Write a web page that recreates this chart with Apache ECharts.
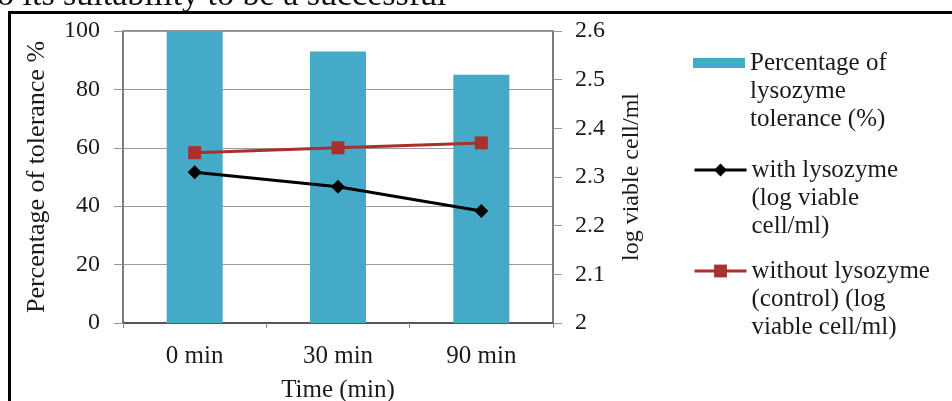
<!DOCTYPE html>
<html><head><meta charset="utf-8">
<script src="https://cdn.jsdelivr.net/npm/echarts@6/dist/echarts.min.js"></script>
<style>html,body{margin:0;padding:0;background:#fff}#c{width:952px;height:401px}</style>
</head><body><div id="c"></div>
<script>
const categories = ['0 min', '30 min', '90 min'];
const tolerance = [100, 93, 85];
const withLysozyme = [2.31, 2.28, 2.23];
const withoutLysozyme = [2.35, 2.36, 2.37];
const leftTicks = {min: 0, max: 100, interval: 20};
const rightTicks = {min: 2, max: 2.6, interval: 0.1};
const names = ['Percentage of\nlysozyme\ntolerance (%)', 'with lysozyme\n(log viable\ncell/ml)', 'without lysozyme\n(control) (log\nviable cell/ml)'];

const FONT = 'Liberation Serif';
const INK = '#1a1a1a';
const tick = {fontFamily: FONT, fontSize: 24, color: INK};
const lab = {fontFamily: FONT, fontSize: 25, color: INK};
const chart = echarts.init(document.getElementById('c'));
function leg(name, iconCenter, h, icon) {
  const l = {data: [name], orient: 'vertical', left: 693, top: iconCenter - 70, itemWidth: 52, itemHeight: h, padding: 0,
    selectedMode: false, formatter: n => '\n\n' + n,
    lineStyle: {width: 3},
    textStyle: {fontFamily: FONT, fontSize: 25, color: INK, lineHeight: 28}};
  if (icon) l.icon = icon;
  return l;
}
chart.setOption({
  animation: false,
  grid: {left: 123, right: 399, top: 31, bottom: 78, containLabel: false, outerBoundsMode: 'none',
    show: true, borderColor: '#6e6e6e', borderWidth: 1.5},
  legend: [leg(names[0], 63, 10, 'rect'), leg(names[1], 170, 16), leg(names[2], 271, 16)],
  xAxis: {type: 'category', data: categories,
    axisLine: {lineStyle: {color: '#444', width: 1.5}},
    axisTick: {show: true, alignWithLabel: false, length: 5, lineStyle: {color: '#888'}},
    axisLabel: Object.assign({margin: 21}, lab),
    name: 'Time (min)', nameLocation: 'middle', nameGap: 55, nameTextStyle: lab},
  yAxis: [
    {type: 'value', min: leftTicks.min, max: leftTicks.max, interval: leftTicks.interval,
      axisLine: {show: true, lineStyle: {color: '#777', width: 1.5}},
      axisTick: {show: true, length: 9, lineStyle: {color: '#999'}},
      splitLine: {lineStyle: {color: '#9a9a9a', width: 1.2}},
      axisLabel: Object.assign({margin: 23}, tick),
      name: 'Percentage of tolerance %', nameLocation: 'middle', nameGap: 73, nameRotate: 90,
      nameTextStyle: {fontFamily: FONT, fontSize: 26, color: INK}},
    {type: 'value', min: rightTicks.min, max: rightTicks.max, interval: rightTicks.interval, position: 'right',
      axisLine: {show: true, lineStyle: {color: '#777', width: 1.5}},
      axisTick: {show: true, length: 9, lineStyle: {color: '#999'}},
      splitLine: {show: false},
      axisLabel: Object.assign({margin: 22, formatter: v => String(Math.round(v * 10) / 10)}, tick),
      name: 'log viable cell/ml', nameLocation: 'middle', nameGap: 67, nameRotate: 90,
      nameTextStyle: {fontFamily: FONT, fontSize: 24, color: INK}}
  ],
  series: [
    {name: names[0], type: 'bar', data: tolerance, barWidth: 56, itemStyle: {color: '#45aac7'}, yAxisIndex: 0},
    {name: names[1], type: 'line', data: withLysozyme, yAxisIndex: 1, symbol: 'diamond', symbolSize: 14,
      lineStyle: {color: '#000', width: 3}, itemStyle: {color: '#000'}},
    {name: names[2], type: 'line', data: withoutLysozyme, yAxisIndex: 1, symbol: 'rect', symbolSize: 13,
      lineStyle: {color: '#a8312e', width: 3}, itemStyle: {color: '#a8312e'}}
  ],
  graphic: [
    {type: 'text', left: -3, top: -21, style: {text: 'o its suitability to be a successful', font: '34px ' + FONT, fill: '#111'}},
    {type: 'rect', shape: {x: 8, y: 11, width: 950, height: 3}, style: {fill: '#000'}},
    {type: 'rect', shape: {x: 8, y: 11, width: 3, height: 400}, style: {fill: '#000'}}
  ]
});
</script></body></html>
